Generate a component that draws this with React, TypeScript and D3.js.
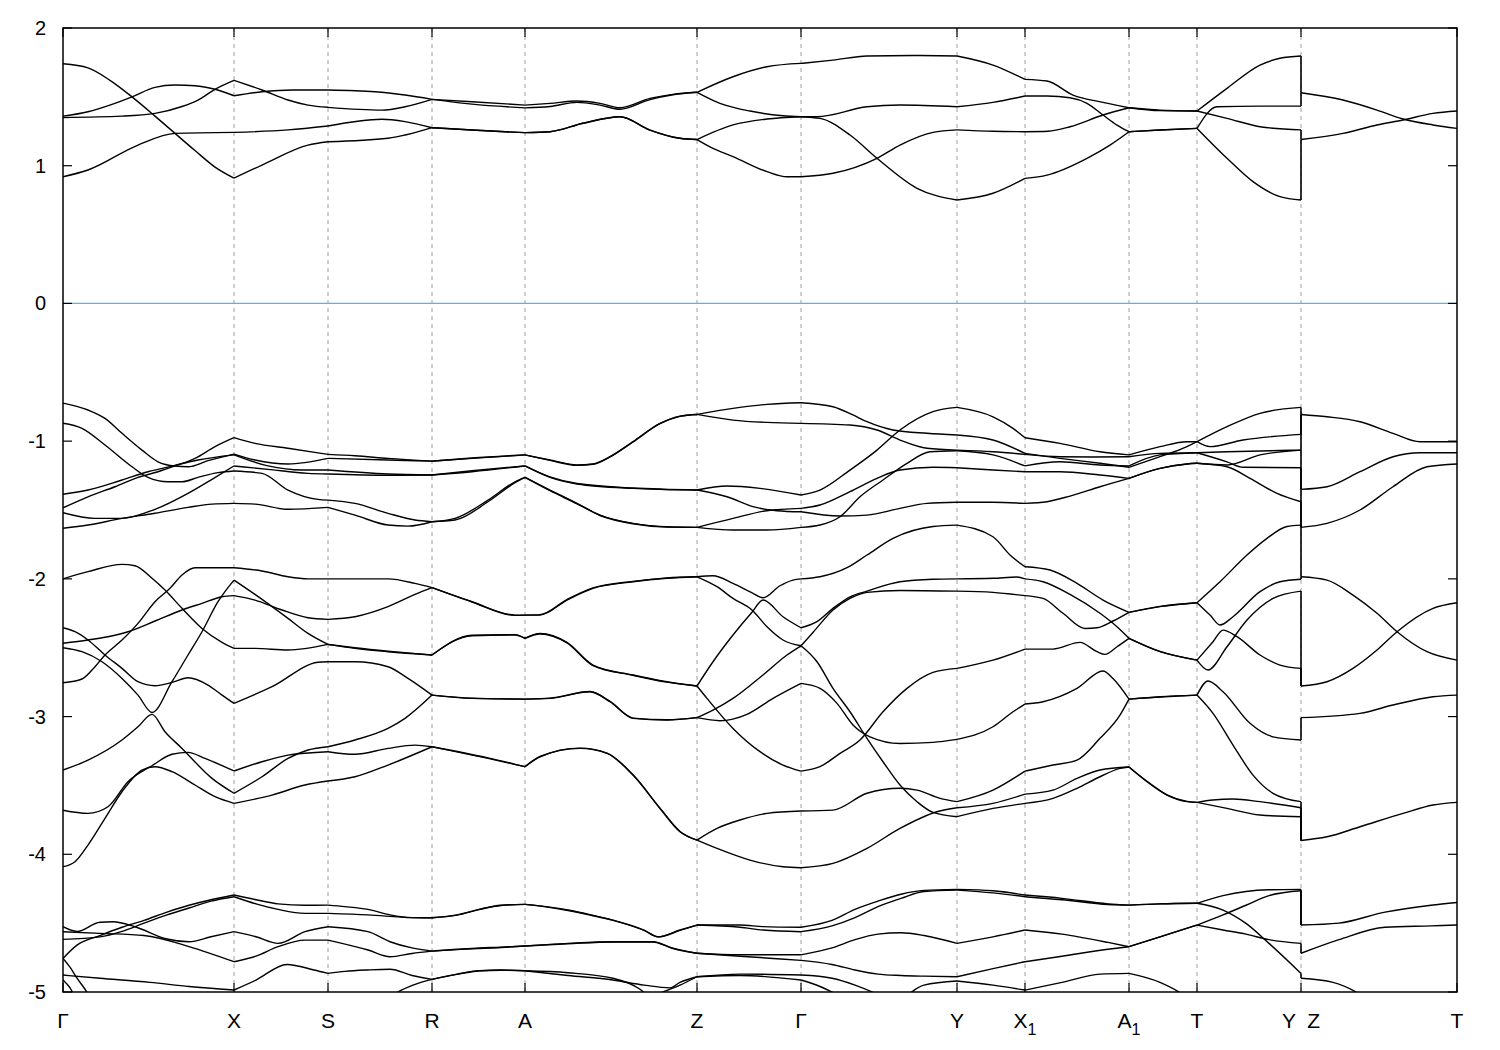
import { useEffect, useRef } from 'react';
import * as d3 from 'd3';

type Pt = [number, number];

// high-symmetry points along the k-path (path length units)
const kTicks = [0, 1.71, 2.65, 3.69, 4.62, 6.34, 7.38, 8.94, 9.62, 10.66, 11.34, 12.38, 13.94];
const kLabels = ['Γ', 'X', 'S', 'R', 'A', 'Z', 'Γ', 'Y', 'X1', 'A1', 'T', 'Y  Z', 'T'];
const yTicks = [2, 1, 0, -1, -2, -3, -4, -5];
const kBreak = 12.38; // path jumps from Y to Z here

// conduction bands, Γ -> Y
const cbA: Pt[] = [[0, 1.74], [0.25, 1.71], [0.47, 1.62], [0.69, 1.5], [0.92, 1.36], [1.12, 1.235], [1.32, 1.11], [1.52, 0.99], [1.71, 0.91],
  [1.99, 1.005], [2.45, 1.15], [2.65, 1.174], [3.25, 1.199], [3.69, 1.276], [4.09, 1.259], [4.62, 1.24],
  [4.87, 1.247], [5.2, 1.308], [5.57, 1.356], [5.87, 1.259], [6.17, 1.199], [6.34, 1.19],
  [6.5, 1.126], [6.7, 1.066], [7.04, 0.957], [7.24, 0.92], [7.38, 0.92],
  [7.7, 0.945], [8.14, 1.054], [8.37, 1.15], [8.7, 1.242], [8.94, 1.26], [9.3, 1.25], [9.62, 1.247],
  [9.85, 1.25], [10.07, 1.283], [10.4, 1.368], [10.66, 1.421], [10.97, 1.404], [11.34, 1.397],
  [11.64, 1.344], [11.97, 1.283], [12.38, 1.26]];
const cbB: Pt[] = [[0, 1.36], [0.25, 1.392], [0.49, 1.446], [0.69, 1.5], [0.92, 1.569], [1.12, 1.586], [1.32, 1.581], [1.52, 1.555], [1.71, 1.508],
  [1.99, 1.537], [2.3, 1.55], [2.65, 1.55], [3.12, 1.537], [3.42, 1.513], [3.69, 1.482], [4.09, 1.465], [4.62, 1.44],
  [4.87, 1.453], [5.14, 1.47], [5.37, 1.453], [5.57, 1.421], [5.87, 1.489], [6.1, 1.518], [6.34, 1.533],
  [6.7, 1.646], [7.04, 1.719], [7.38, 1.743], [7.7, 1.767], [8.04, 1.797], [8.5, 1.8], [8.94, 1.797],
  [9.3, 1.731], [9.62, 1.627], [9.84, 1.615], [10.1, 1.513], [10.4, 1.46], [10.66, 1.421], [10.97, 1.4], [11.34, 1.397],
  [11.64, 1.562], [11.97, 1.731], [12.17, 1.78], [12.38, 1.797]];
const cbC: Pt[] = [[0, 1.35], [0.59, 1.36], [0.92, 1.38], [1.19, 1.43], [1.35, 1.477], [1.52, 1.555], [1.71, 1.62],
  [1.99, 1.55], [2.25, 1.477], [2.45, 1.44], [2.65, 1.424], [3.19, 1.404], [3.42, 1.428], [3.69, 1.482], [4.09, 1.447], [4.62, 1.42],
  [4.87, 1.43], [5.14, 1.46], [5.37, 1.44], [5.57, 1.41], [5.87, 1.48], [6.1, 1.515], [6.34, 1.533],
  [6.57, 1.453], [6.87, 1.397], [7.2, 1.363], [7.38, 1.356],
  [7.57, 1.344], [7.87, 1.223], [8.14, 1.054], [8.54, 0.836], [8.94, 0.751], [9.3, 0.8], [9.62, 0.908],
  [9.84, 0.932], [10.24, 1.054], [10.47, 1.15], [10.66, 1.247], [10.97, 1.259], [11.34, 1.271],
  [11.64, 1.054], [11.9, 0.884], [12.17, 0.775], [12.38, 0.751]];
const cbD: Pt[] = [[0, 0.92], [0.25, 0.969], [0.75, 1.15], [1.12, 1.235], [1.71, 1.242],
  [2.25, 1.26], [2.65, 1.288], [3.19, 1.337], [3.42, 1.32], [3.69, 1.276], [4.09, 1.259], [4.62, 1.24],
  [4.87, 1.247], [5.2, 1.308], [5.57, 1.356], [5.87, 1.259], [6.17, 1.199], [6.34, 1.19],
  [6.7, 1.296], [7.04, 1.339], [7.38, 1.356], [7.54, 1.356], [8.04, 1.428], [8.37, 1.441], [8.94, 1.428],
  [9.3, 1.46], [9.62, 1.506], [9.84, 1.506], [10.07, 1.494], [10.24, 1.453], [10.4, 1.368], [10.54, 1.295], [10.66, 1.247],
  [10.97, 1.259], [11.34, 1.271], [11.54, 1.428], [11.97, 1.433], [12.38, 1.433]];
// conduction bands, Z -> T
const cbR1: Pt[] = [[12.38, 1.53], [12.8, 1.477], [13.14, 1.404], [13.4, 1.339], [13.7, 1.296], [13.94, 1.271]];
const cbR2: Pt[] = [[12.38, 1.19], [12.8, 1.235], [13.14, 1.296], [13.4, 1.332], [13.7, 1.38], [13.94, 1.397]];

// upper valence bands, Γ -> Y
const vb1: Pt[] = [[0, -0.724], [0.25, -0.774], [0.42, -0.835], [0.59, -0.943], [0.79, -1.065], [0.95, -1.15], [1.12, -1.181], [1.25, -1.186], [1.45, -1.142], [1.71, -1.094],
  [1.92, -1.137], [2.25, -1.166], [2.65, -1.125], [3.25, -1.137], [3.69, -1.145], [4.09, -1.125], [4.62, -1.1],
  [4.87, -1.137], [5.14, -1.173], [5.3, -1.166], [5.47, -1.113], [5.7, -1.004], [5.97, -0.871], [6.17, -0.818], [6.34, -0.806],
  [6.7, -0.847], [7.04, -0.864], [7.38, -0.871], [7.87, -0.883], [8.14, -0.919], [8.37, -0.992], [8.64, -1.052], [8.94, -1.065],
  [9.3, -1.077], [9.62, -1.096], [9.97, -1.113], [10.3, -1.115], [10.66, -1.113], [10.97, -1.089], [11.34, -1.084],
  [11.64, -1.077], [12.38, -1.065]];
const vb2: Pt[] = [[0, -0.87], [0.19, -0.907], [0.42, -1.028], [0.69, -1.186], [0.85, -1.263], [1.05, -1.295], [1.19, -1.295], [1.35, -1.263], [1.55, -1.229], [1.71, -1.217],
  [1.99, -1.234], [2.25, -1.355], [2.55, -1.423], [2.65, -1.428], [2.92, -1.452], [3.25, -1.524], [3.52, -1.573], [3.69, -1.585],
  [3.92, -1.561], [4.25, -1.428], [4.52, -1.295], [4.62, -1.263],
  [4.87, -1.355], [5.14, -1.452], [5.37, -1.537], [5.7, -1.597], [6.04, -1.622], [6.34, -1.626],
  [6.7, -1.561], [7.04, -1.505], [7.38, -1.488], [7.57, -1.464], [7.87, -1.367], [8.14, -1.27], [8.37, -1.21], [8.7, -1.19], [8.94, -1.193],
  [9.3, -1.21], [9.62, -1.222], [9.97, -1.222], [10.37, -1.246], [10.66, -1.27], [10.97, -1.198], [11.24, -1.166], [11.34, -1.161],
  [11.64, -1.173], [11.97, -1.1], [12.38, -1.065]];
const vb3: Pt[] = [[0, -1.386], [0.25, -1.355], [0.59, -1.282], [0.85, -1.222], [1.09, -1.181], [1.35, -1.137], [1.71, -1.1],
  [2.05, -1.18], [2.39, -1.21], [2.65, -1.21], [3.25, -1.239], [3.69, -1.246], [4.09, -1.222], [4.62, -1.18],
  [4.87, -1.263], [5.14, -1.311], [5.7, -1.343], [6.34, -1.355], [6.64, -1.326], [6.97, -1.343], [7.38, -1.391],
  [7.57, -1.355], [7.87, -1.21], [8.14, -1.065], [8.37, -0.919], [8.7, -0.786], [8.94, -0.755],
  [9.3, -0.823], [9.5, -0.907], [9.62, -0.975], [9.97, -1.016], [10.37, -1.077], [10.66, -1.1],
  [10.97, -1.04], [11.24, -1.004], [11.34, -1.004], [11.64, -0.895], [11.97, -0.798], [12.38, -0.755]];
const vb4: Pt[] = [[0, -1.484], [0.25, -1.404], [0.52, -1.331], [0.75, -1.263], [0.95, -1.222], [1.12, -1.18], [1.32, -1.125], [1.52, -1.04], [1.71, -0.975],
  [1.92, -1.016], [2.25, -1.052], [2.65, -1.096], [2.92, -1.106], [3.25, -1.125], [3.69, -1.145], [4.09, -1.122], [4.62, -1.1],
  [4.87, -1.14], [5.14, -1.176], [5.3, -1.168], [5.47, -1.115], [5.7, -1.006], [5.97, -0.873], [6.17, -0.82], [6.34, -0.806],
  [6.7, -0.762], [7.04, -0.733], [7.38, -0.721], [7.7, -0.75], [7.9, -0.81], [8.04, -0.859], [8.3, -0.919], [8.64, -0.943], [8.94, -0.955],
  [9.3, -0.992], [9.62, -1.089], [9.97, -1.125], [10.37, -1.161], [10.66, -1.19], [10.97, -1.113], [11.24, -1.04], [11.34, -1.004],
  [11.47, -1.04], [11.8, -0.992], [12.38, -0.951]];
const vb5: Pt[] = [[0, -1.52], [0.32, -1.561], [0.59, -1.561], [0.92, -1.495], [1.25, -1.379], [1.49, -1.277], [1.71, -1.18],
  [2.05, -1.205], [2.45, -1.234], [2.65, -1.239], [3.25, -1.248], [3.69, -1.246], [4.09, -1.215], [4.62, -1.18],
  [4.87, -1.26], [5.14, -1.308], [5.7, -1.34], [6.34, -1.355], [6.64, -1.404], [6.9, -1.476], [7.14, -1.505], [7.38, -1.513],
  [7.77, -1.544], [8.04, -1.537], [8.37, -1.488], [8.64, -1.452], [8.94, -1.444], [9.3, -1.444], [9.62, -1.452],
  [9.84, -1.44], [10.07, -1.399], [10.37, -1.331], [10.66, -1.27], [10.97, -1.198], [11.24, -1.166], [11.34, -1.161],
  [11.64, -1.186], [11.87, -1.27], [12.14, -1.379], [12.38, -1.44]];
const vb6: Pt[] = [[0, -1.633], [0.25, -1.609], [0.59, -1.561], [0.92, -1.524], [1.25, -1.481], [1.49, -1.457], [1.71, -1.452],
  [1.92, -1.457], [2.25, -1.495], [2.65, -1.481], [2.92, -1.537], [3.25, -1.609], [3.45, -1.617], [3.69, -1.585],
  [3.92, -1.573], [4.25, -1.44], [4.52, -1.302], [4.62, -1.263],
  [4.87, -1.36], [5.14, -1.455], [5.37, -1.54], [5.7, -1.6], [6.04, -1.624], [6.34, -1.626],
  [6.7, -1.645], [7.04, -1.645], [7.38, -1.626], [7.57, -1.609], [7.77, -1.549], [7.97, -1.404], [8.2, -1.282], [8.44, -1.161], [8.67, -1.077], [8.94, -1.07],
  [9.3, -1.1], [9.62, -1.18], [9.97, -1.15], [10.37, -1.173], [10.66, -1.18], [10.97, -1.1], [11.34, -1.084],
  [11.64, -1.15], [11.8, -1.19], [12.38, -1.193]];
// upper valence bands, Z -> T
const vbR1: Pt[] = [[12.38, -0.806], [12.64, -0.823], [12.97, -0.859], [13.3, -0.943], [13.57, -1.004], [13.94, -1.004]];
const vbR2: Pt[] = [[12.38, -1.35], [12.64, -1.331], [12.97, -1.222], [13.3, -1.113], [13.57, -1.084], [13.94, -1.084]];
const vbR3: Pt[] = [[12.38, -1.626], [12.64, -1.597], [12.97, -1.5], [13.3, -1.331], [13.64, -1.186], [13.94, -1.166]];

// middle valence bands, Γ -> Y
const mb1: Pt[] = [[0, -2.0], [0.25, -1.948], [0.59, -1.895], [0.72, -1.905], [0.89, -1.996], [1.02, -2.081], [1.19, -2.214], [1.39, -2.36], [1.59, -2.461], [1.71, -2.505],
  [1.92, -2.505], [2.25, -2.517], [2.65, -2.476], [2.92, -2.505], [3.25, -2.529], [3.69, -2.553], [4.09, -2.413], [4.52, -2.408], [4.62, -2.432],
  [4.77, -2.396], [5.04, -2.461], [5.3, -2.626], [5.7, -2.698], [6.04, -2.747], [6.34, -2.778],
  [6.5, -2.602], [6.7, -2.408], [6.89, -2.243], [7.0, -2.154], [7.2, -2.275], [7.38, -2.355],
  [7.54, -2.311], [7.7, -2.214], [7.87, -2.13], [8.04, -2.089], [8.37, -2.021], [8.7, -2.003], [8.94, -2.0],
  [9.3, -1.996], [9.54, -1.987], [9.62, -2.0], [9.8, -2.021], [10.07, -2.113], [10.37, -2.25], [10.54, -2.348], [10.66, -2.432],
  [10.97, -2.529], [11.34, -2.59], [11.45, -2.662], [11.64, -2.493], [11.84, -2.299], [12.1, -2.142], [12.38, -2.089]];
const mb2: Pt[] = [[0, -2.355], [0.12, -2.384], [0.25, -2.444], [0.42, -2.553], [0.59, -2.65], [0.75, -2.747], [0.92, -2.776], [1.09, -2.752], [1.25, -2.718], [1.45, -2.771], [1.59, -2.844], [1.71, -2.904],
  [2.09, -2.783], [2.55, -2.606], [2.65, -2.602], [2.92, -2.602], [3.25, -2.638], [3.45, -2.723], [3.69, -2.844], [4.09, -2.868], [4.62, -2.873],
  [4.87, -2.868], [5.27, -2.82], [5.47, -2.892], [5.7, -3.013], [6.04, -3.025], [6.34, -3.008],
  [6.5, -2.953], [6.7, -2.868], [7.0, -2.698], [7.24, -2.553], [7.38, -2.486],
  [7.5, -2.389], [7.7, -2.226], [7.87, -2.142], [8.04, -2.098], [8.37, -2.084], [8.94, -2.089], [9.3, -2.098], [9.62, -2.122],
  [9.8, -2.142], [10.0, -2.25], [10.22, -2.36], [10.34, -2.355], [10.5, -2.306], [10.66, -2.243], [10.97, -2.202], [11.34, -2.173],
  [11.47, -2.263], [11.57, -2.335], [11.7, -2.275], [11.97, -2.093], [12.17, -2.021], [12.38, -2.003]];
const mb3: Pt[] = [[0, -2.468], [0.25, -2.444], [0.45, -2.42], [0.65, -2.384], [0.92, -2.306], [1.19, -2.226], [1.39, -2.178], [1.59, -2.13], [1.71, -2.122],
  [1.92, -2.154], [2.19, -2.226], [2.45, -2.282], [2.65, -2.294], [2.92, -2.275], [3.25, -2.202], [3.52, -2.113], [3.69, -2.064],
  [4.09, -2.166], [4.52, -2.263], [4.62, -2.263], [4.77, -2.263], [5.04, -2.154], [5.3, -2.069], [5.7, -2.021], [6.04, -1.996], [6.34, -1.985],
  [6.54, -2.057], [6.7, -2.142], [6.89, -2.226], [7.04, -2.348], [7.2, -2.444], [7.38, -2.486],
  [7.54, -2.602], [7.7, -2.795], [7.87, -2.965], [8.04, -3.158], [8.2, -3.328], [8.37, -3.497], [8.54, -3.618], [8.7, -3.696], [8.94, -3.727],
  [9.3, -3.667], [9.62, -3.63], [9.9, -3.594], [10.14, -3.521], [10.37, -3.437], [10.57, -3.376], [10.66, -3.366],
  [10.84, -3.473], [11.04, -3.57], [11.24, -3.618], [11.34, -3.623], [11.64, -3.667], [11.97, -3.715], [12.38, -3.727]];
const mb4: Pt[] = [[0, -2.754], [0.19, -2.727], [0.32, -2.638], [0.42, -2.553], [0.59, -2.444], [0.75, -2.323], [0.92, -2.166], [1.07, -2.069], [1.19, -1.972], [1.32, -1.919], [1.71, -1.919],
  [1.99, -1.943], [2.25, -1.985], [2.45, -2.0], [2.65, -2.0], [3.25, -2.0], [3.52, -2.033], [3.69, -2.064],
  [4.09, -2.168], [4.52, -2.265], [4.62, -2.263], [4.77, -2.26], [5.04, -2.15], [5.3, -2.066], [5.7, -2.018], [6.04, -1.993], [6.34, -1.985],
  [6.5, -1.977], [6.7, -2.033], [6.9, -2.105], [7.0, -2.137], [7.17, -2.05], [7.3, -2.009], [7.38, -2.0],
  [7.57, -1.985], [7.84, -1.919], [8.04, -1.827], [8.3, -1.706], [8.7, -1.62], [8.94, -1.61],
  [9.3, -1.694], [9.47, -1.827], [9.62, -1.912], [9.87, -1.936], [10.14, -2.033], [10.4, -2.154], [10.66, -2.243],
  [10.97, -2.2], [11.34, -2.173], [11.57, -2.021], [11.84, -1.827], [12.04, -1.706], [12.24, -1.62], [12.38, -1.61]];
const mb5: Pt[] = [[0, -2.5], [0.19, -2.529], [0.39, -2.602], [0.59, -2.723], [0.75, -2.844], [0.89, -2.97], [1.09, -2.747], [1.25, -2.553], [1.39, -2.384], [1.55, -2.166], [1.71, -2.009],
  [1.92, -2.113], [2.25, -2.287], [2.45, -2.396], [2.65, -2.476], [2.92, -2.5], [3.25, -2.525], [3.69, -2.553],
  [4.09, -2.41], [4.52, -2.405], [4.62, -2.432], [4.77, -2.4], [5.04, -2.465], [5.3, -2.63], [5.7, -2.7], [6.04, -2.75], [6.34, -2.778],
  [6.44, -2.868], [6.7, -3.086], [6.97, -3.255], [7.2, -3.352], [7.38, -3.396],
  [7.57, -3.364], [7.77, -3.267], [7.97, -3.17], [8.2, -2.965], [8.44, -2.795], [8.7, -2.679], [8.94, -2.65],
  [9.3, -2.59], [9.62, -2.51], [9.9, -2.51], [10.17, -2.461], [10.34, -2.529], [10.42, -2.548], [10.54, -2.493], [10.66, -2.432],
  [10.97, -2.527], [11.34, -2.59], [11.5, -2.457], [11.6, -2.372], [11.74, -2.42], [11.97, -2.553], [12.17, -2.626], [12.38, -2.65]];
const mb6: Pt[] = [[0, -3.388], [0.25, -3.316], [0.59, -3.17], [0.75, -3.074], [0.89, -2.984], [1.02, -3.11], [1.19, -3.231], [1.49, -3.449], [1.71, -3.557],
  [1.99, -3.437], [2.25, -3.304], [2.45, -3.243], [2.65, -3.219], [2.92, -3.17], [3.25, -3.086], [3.42, -3.013], [3.69, -2.844],
  [4.09, -2.866], [4.62, -2.873], [4.87, -2.866], [5.27, -2.818], [5.47, -2.89], [5.7, -3.011], [6.04, -3.023], [6.34, -3.008],
  [6.57, -3.03], [6.84, -2.984], [7.1, -2.868], [7.38, -2.759],
  [7.57, -2.795], [7.74, -2.904], [7.9, -3.061], [8.07, -3.147], [8.37, -3.195], [8.7, -3.187], [8.94, -3.166],
  [9.3, -3.074], [9.5, -2.965], [9.62, -2.909], [9.8, -2.892], [10.14, -2.795], [10.4, -2.669], [10.5, -2.723], [10.66, -2.873],
  [10.97, -2.856], [11.34, -2.844], [11.45, -2.742], [11.6, -2.82], [11.87, -3.049], [12.1, -3.147], [12.38, -3.17]];
const mb7: Pt[] = [[0, -3.68], [0.25, -3.703], [0.45, -3.655], [0.65, -3.473], [0.89, -3.357], [1.09, -3.274], [1.25, -3.26], [1.42, -3.304], [1.71, -3.395],
  [1.99, -3.328], [2.25, -3.28], [2.65, -3.255], [2.92, -3.274], [3.25, -3.231], [3.52, -3.207], [3.69, -3.219],
  [4.25, -3.304], [4.62, -3.364], [4.77, -3.292], [5.17, -3.231], [5.44, -3.267], [5.7, -3.425], [5.97, -3.667], [6.17, -3.836], [6.34, -3.897],
  [6.54, -3.812], [6.77, -3.751], [7.04, -3.703], [7.38, -3.686],
  [7.7, -3.679], [8.04, -3.557], [8.37, -3.521], [8.54, -3.534], [8.77, -3.594], [8.94, -3.618],
  [9.3, -3.534], [9.62, -3.396], [9.9, -3.352], [10.14, -3.316], [10.37, -3.158], [10.57, -2.989], [10.66, -2.873],
  [10.97, -2.858], [11.34, -2.844], [11.5, -2.977], [11.7, -3.207], [11.9, -3.425], [12.1, -3.557], [12.38, -3.618]];
const mb8: Pt[] = [[0, -4.09], [0.12, -4.054], [0.25, -3.933], [0.42, -3.739], [0.59, -3.546], [0.79, -3.388], [0.92, -3.364], [1.09, -3.4], [1.32, -3.497], [1.52, -3.582], [1.71, -3.63],
  [2.09, -3.57], [2.42, -3.497], [2.65, -3.468], [2.92, -3.437], [3.25, -3.352], [3.69, -3.219],
  [4.25, -3.3], [4.62, -3.364], [4.77, -3.29], [5.17, -3.229], [5.44, -3.265], [5.7, -3.423], [5.97, -3.665], [6.17, -3.834], [6.34, -3.897],
  [6.54, -3.957], [6.87, -4.042], [7.2, -4.091], [7.38, -4.098],
  [7.7, -4.066], [8.04, -3.957], [8.37, -3.812], [8.74, -3.691], [8.94, -3.662],
  [9.3, -3.63], [9.62, -3.563], [9.9, -3.534], [10.14, -3.449], [10.37, -3.388], [10.66, -3.366],
  [10.84, -3.47], [11.04, -3.568], [11.24, -3.616], [11.34, -3.623], [11.5, -3.606], [11.7, -3.599], [11.97, -3.618], [12.38, -3.662]];
// middle valence bands, Z -> T
const mbR1: Pt[] = [[12.38, -1.985], [12.64, -2.009], [12.9, -2.118], [13.14, -2.25], [13.34, -2.384], [13.64, -2.529], [13.94, -2.59]];
const mbR2: Pt[] = [[12.38, -2.778], [12.64, -2.747], [12.9, -2.65], [13.14, -2.517], [13.34, -2.384], [13.7, -2.214], [13.94, -2.173]];
const mbR3: Pt[] = [[12.38, -3.008], [12.97, -2.977], [13.3, -2.916], [13.7, -2.856], [13.94, -2.844]];
const mbR4: Pt[] = [[12.38, -3.9], [12.64, -3.873], [12.97, -3.8], [13.4, -3.703], [13.7, -3.642], [13.94, -3.623]];

// lower valence bands (partly below the -5 window)
const lb1: Pt[] = [[0, -4.756], [0.14, -4.66], [0.37, -4.59], [0.59, -4.53], [0.81, -4.48], [1.04, -4.42], [1.26, -4.37], [1.48, -4.33], [1.71, -4.296],
  [1.93, -4.33], [2.15, -4.36], [2.42, -4.37], [2.65, -4.369], [2.82, -4.38], [3.05, -4.4], [3.27, -4.44], [3.49, -4.46], [3.69, -4.461],
  [3.94, -4.44], [4.16, -4.4], [4.38, -4.37], [4.62, -4.364], [4.83, -4.38], [5.05, -4.405], [5.28, -4.44], [5.5, -4.478], [5.81, -4.55], [5.95, -4.599], [6.17, -4.55], [6.34, -4.514],
  [6.77, -4.514], [7.0, -4.525], [7.38, -4.53], [7.69, -4.48], [7.92, -4.4], [8.15, -4.34], [8.38, -4.29], [8.61, -4.262], [8.94, -4.255],
  [9.3, -4.265], [9.62, -4.296], [9.99, -4.32], [10.45, -4.36], [10.66, -4.369], [10.97, -4.36], [11.34, -4.356],
  [11.6, -4.3], [11.83, -4.27], [12.06, -4.258], [12.38, -4.255]];
const lb2: Pt[] = [[0, -4.618], [0.37, -4.6], [0.59, -4.56], [0.81, -4.5], [1.04, -4.44], [1.26, -4.39], [1.48, -4.34], [1.71, -4.308],
  [1.93, -4.36], [2.15, -4.4], [2.42, -4.429], [2.65, -4.429], [3.05, -4.44], [3.49, -4.46], [3.69, -4.461],
  [3.94, -4.442], [4.16, -4.402], [4.38, -4.372], [4.62, -4.364], [4.83, -4.382], [5.05, -4.408], [5.28, -4.443], [5.5, -4.48], [5.81, -4.553], [5.95, -4.6], [6.17, -4.553], [6.34, -4.514],
  [6.77, -4.53], [7.0, -4.55], [7.38, -4.562], [7.69, -4.52], [7.92, -4.46], [8.15, -4.38], [8.38, -4.32], [8.61, -4.27], [8.94, -4.26],
  [9.3, -4.28], [9.62, -4.308], [9.99, -4.33], [10.45, -4.365], [10.66, -4.369], [10.97, -4.36], [11.34, -4.356],
  [11.6, -4.405], [11.83, -4.502], [12.06, -4.647], [12.38, -4.865]];
const lb3: Pt[] = [[0, -4.526], [0.14, -4.56], [0.37, -4.493], [0.5, -4.49], [0.72, -4.526], [1.04, -4.615], [1.26, -4.635], [1.48, -4.599], [1.71, -4.562],
  [1.93, -4.599], [2.15, -4.647], [2.42, -4.562], [2.65, -4.526], [3.05, -4.562], [3.27, -4.635], [3.49, -4.68], [3.69, -4.703],
  [3.94, -4.69], [4.16, -4.68], [4.38, -4.675], [4.62, -4.666], [5.05, -4.647], [5.5, -4.635], [5.9, -4.635], [6.09, -4.68], [6.34, -4.719],
  [6.77, -4.73], [7.38, -4.73], [7.69, -4.68], [7.92, -4.62], [8.15, -4.58], [8.38, -4.57], [8.61, -4.59], [8.94, -4.647],
  [9.3, -4.6], [9.62, -4.55], [9.99, -4.58], [10.45, -4.64], [10.66, -4.671], [10.97, -4.6], [11.34, -4.514],
  [11.6, -4.44], [11.83, -4.37], [12.06, -4.3], [12.38, -4.265]];
const lb4: Pt[] = [[0, -4.562], [0.37, -4.574], [0.81, -4.59], [1.26, -4.67], [1.71, -4.78],
  [1.93, -4.74], [2.15, -4.671], [2.42, -4.623], [2.65, -4.623], [3.05, -4.695], [3.27, -4.744], [3.49, -4.72], [3.69, -4.703],
  [3.94, -4.692], [4.38, -4.677], [4.62, -4.666], [5.05, -4.65], [5.5, -4.637], [5.9, -4.637], [6.09, -4.682], [6.34, -4.719],
  [6.77, -4.74], [7.38, -4.77], [7.69, -4.8], [7.92, -4.84], [8.15, -4.87], [8.38, -4.88], [8.61, -4.885], [8.94, -4.889],
  [9.3, -4.83], [9.62, -4.78], [9.99, -4.74], [10.45, -4.69], [10.66, -4.671], [10.97, -4.6], [11.34, -4.514],
  [11.6, -4.55], [11.83, -4.58], [12.06, -4.62], [12.38, -4.647]];
const lb5: Pt[] = [[0, -4.756], [0.07, -4.82], [0.14, -4.9], [0.22, -4.98], [0.3, -5.08]];
const lb6: Pt[] = [[0, -4.877], [0.37, -4.9], [0.87, -4.93], [1.26, -4.96], [1.71, -4.986],
  [1.93, -4.913], [2.24, -4.8], [2.51, -4.84], [2.65, -4.865], [2.82, -4.85], [3.05, -4.84], [3.27, -4.835], [3.49, -4.88], [3.69, -4.908],
  [3.94, -4.87], [4.16, -4.845], [4.38, -4.84], [4.62, -4.846], [5.05, -4.88], [5.5, -4.913], [5.81, -4.95], [6.07, -4.97], [6.17, -4.93], [6.34, -4.889],
  [6.77, -4.87], [7.38, -4.877], [7.69, -4.9], [7.92, -4.95], [8.15, -5.02], [8.3, -5.08]];
const lb7: Pt[] = [[0, -4.913], [0.07, -4.97], [0.13, -5.05]];
const lb8: Pt[] = [[3.2, -5.08], [3.35, -5.0], [3.5, -4.95], [3.69, -4.908], [3.94, -4.872], [4.16, -4.847], [4.38, -4.842], [4.62, -4.846],
  [5.05, -4.86], [5.5, -4.9], [5.77, -4.98], [5.9, -5.06]];
const lb9: Pt[] = [[5.8, -5.08], [6.0, -5.0], [6.17, -4.95], [6.34, -4.889], [6.77, -4.88], [7.38, -4.913], [7.57, -4.96], [7.77, -5.03], [7.9, -5.08]];
const lb10: Pt[] = [[8.37, -5.08], [8.61, -4.95], [8.94, -4.92], [9.3, -4.95], [9.62, -4.986], [9.99, -4.93], [10.37, -4.87], [10.66, -4.865],
  [10.97, -4.93], [11.2, -5.02], [11.3, -5.08]];
// lower valence bands, Z -> T
const lbR1: Pt[] = [[12.38, -4.514], [12.76, -4.5], [13.22, -4.42], [13.68, -4.37], [13.94, -4.35]];
const lbR2: Pt[] = [[12.38, -4.719], [12.76, -4.62], [13.22, -4.53], [13.68, -4.52], [13.94, -4.514]];
const lbR3: Pt[] = [[12.38, -4.9], [12.7, -4.93], [13.0, -5.03], [13.1, -5.08]];

// energies joined by the vertical jump at Y|Z (left end -> right start)
const breakJumps: [number, number][] = [
  [1.797, 1.53], [1.433, 1.53], [1.26, 1.19], [0.751, 1.19],
  [-0.755, -0.806], [-0.951, -0.806], [-1.065, -0.806], [-1.065, -1.35], [-1.193, -1.626], [-1.44, -1.626],
  [-1.61, -1.985], [-2.003, -1.985], [-2.089, -2.778], [-2.65, -2.778], [-3.17, -3.008],
  [-3.618, -3.9], [-3.662, -3.9], [-3.727, -3.9],
  [-4.255, -4.514], [-4.265, -4.514], [-4.647, -4.719], [-4.865, -4.9],
];

const bands: Pt[][] = [
  cbA, cbB, cbC, cbD, cbR1, cbR2,
  vb1, vb2, vb3, vb4, vb5, vb6, vbR1, vbR2, vbR3,
  mb1, mb2, mb3, mb4, mb5, mb6, mb7, mb8, mbR1, mbR2, mbR3, mbR4,
  lb1, lb2, lb3, lb4, lb5, lb6, lb7, lb8, lb9, lb10, lbR1, lbR2, lbR3,
];

const isTick = (k: number) => kTicks.some(t => Math.abs(t - k) < 1e-6);

const BandStructure = () => {
  const svgRef = useRef<SVGSVGElement>(null);

  useEffect(() => {
    if (!svgRef.current) return;
    const svg = d3.select(svgRef.current);
    svg.selectAll('*').remove();

    const W = 1500;
    const H = 1050;
    const margin = { top: 28, right: 43, bottom: 58, left: 63 };
    const x = d3.scaleLinear()
      .domain([kTicks[0], kTicks[kTicks.length - 1]])
      .range([margin.left, W - margin.right]);
    const y = d3.scaleLinear()
      .domain([-5, 2])
      .range([H - margin.bottom, margin.top]);
    const font = 'Liberation Sans, Arial, Helvetica, sans-serif';

    svg.append('rect').attr('width', W).attr('height', H).attr('fill', '#fff');

    svg.append('defs').append('clipPath').attr('id', 'plot-clip')
      .append('rect')
      .attr('x', margin.left).attr('y', margin.top)
      .attr('width', x.range()[1] - margin.left)
      .attr('height', y.range()[0] - margin.top);

    // dashed lines at the inner high-symmetry points
    svg.append('g')
      .selectAll('line')
      .data(kTicks.slice(1, -1))
      .join('line')
      .attr('x1', d => x(d)).attr('x2', d => x(d))
      .attr('y1', y(2)).attr('y2', y(-5))
      .attr('stroke', '#a0a0a0')
      .attr('stroke-width', 1)
      .attr('stroke-dasharray', '4,4');

    // Fermi level
    svg.append('line')
      .attr('x1', x.range()[0]).attr('x2', x.range()[1])
      .attr('y1', y(0)).attr('y2', y(0))
      .attr('stroke', '#56b4e9')
      .attr('stroke-width', 1.2);

    const line = d3.line<Pt>()
      .x(d => x(d[0]))
      .y(d => y(d[1]))
      .curve(d3.curveMonotoneX);

    const bandG = svg.append('g').attr('clip-path', 'url(#plot-clip)');

    bands.forEach(pts => {
      // break each band at the high-symmetry points so kinks stay sharp
      const pieces: Pt[][] = [];
      let cur: Pt[] = [];
      pts.forEach((p, i) => {
        cur.push(p);
        if (isTick(p[0]) && cur.length > 1 && i < pts.length - 1) {
          pieces.push(cur);
          cur = [p];
        }
      });
      if (cur.length > 1) pieces.push(cur);
      pieces.forEach(seg => {
        bandG.append('path')
          .attr('d', line(seg))
          .attr('fill', 'none')
          .attr('stroke', '#000')
          .attr('stroke-width', 1.4);
      });
    });

    bandG.append('g')
      .selectAll('line')
      .data(breakJumps)
      .join('line')
      .attr('x1', x(kBreak)).attr('x2', x(kBreak))
      .attr('y1', d => y(d[0])).attr('y2', d => y(d[1]))
      .attr('stroke', '#000')
      .attr('stroke-width', 1.6);

    // frame
    svg.append('rect')
      .attr('x', margin.left).attr('y', margin.top)
      .attr('width', x.range()[1] - margin.left)
      .attr('height', y.range()[0] - margin.top)
      .attr('fill', 'none')
      .attr('stroke', '#000')
      .attr('stroke-width', 1.5);

    // y ticks (inside, mirrored)
    const tickLen = 9;
    const yt = svg.append('g');
    yTicks.forEach(v => {
      yt.append('line')
        .attr('x1', x.range()[0]).attr('x2', x.range()[0] + tickLen)
        .attr('y1', y(v)).attr('y2', y(v))
        .attr('stroke', '#000').attr('stroke-width', 1.2);
      yt.append('line')
        .attr('x1', x.range()[1]).attr('x2', x.range()[1] - tickLen)
        .attr('y1', y(v)).attr('y2', y(v))
        .attr('stroke', '#000').attr('stroke-width', 1.2);
      yt.append('text')
        .attr('x', 46)
        .attr('y', y(v))
        .attr('dy', '0.35em')
        .attr('text-anchor', 'end')
        .style('font-family', font)
        .style('font-size', '20px')
        .text(String(v));
    });

    // x ticks + labels
    const xt = svg.append('g');
    kTicks.forEach((k, i) => {
      xt.append('line')
        .attr('x1', x(k)).attr('x2', x(k))
        .attr('y1', y(-5)).attr('y2', y(-5) - tickLen)
        .attr('stroke', '#000').attr('stroke-width', 1.2);
      xt.append('line')
        .attr('x1', x(k)).attr('x2', x(k))
        .attr('y1', y(2)).attr('y2', y(2) + tickLen)
        .attr('stroke', '#000').attr('stroke-width', 1.2);
      const label = kLabels[i];
      const m = label.match(/^([A-Z])(\d)$/);
      const t = xt.append('text')
        .attr('x', x(k))
        .attr('y', 1028)
        .attr('text-anchor', 'middle')
        .style('font-family', font)
        .style('font-size', '21px')
        .style('white-space', 'pre');
      if (m) {
        t.append('tspan').text(m[1]);
        t.append('tspan').attr('dy', 7).style('font-size', '16px').text(m[2]);
      } else {
        t.text(label);
      }
    });
  }, []);

  return (
    <svg
      ref={svgRef}
      width={1500}
      height={1050}
      style={{ position: 'absolute', left: 0, top: 0, display: 'block' }}
    />
  );
};

export default function App() {
  return <BandStructure />;
}
